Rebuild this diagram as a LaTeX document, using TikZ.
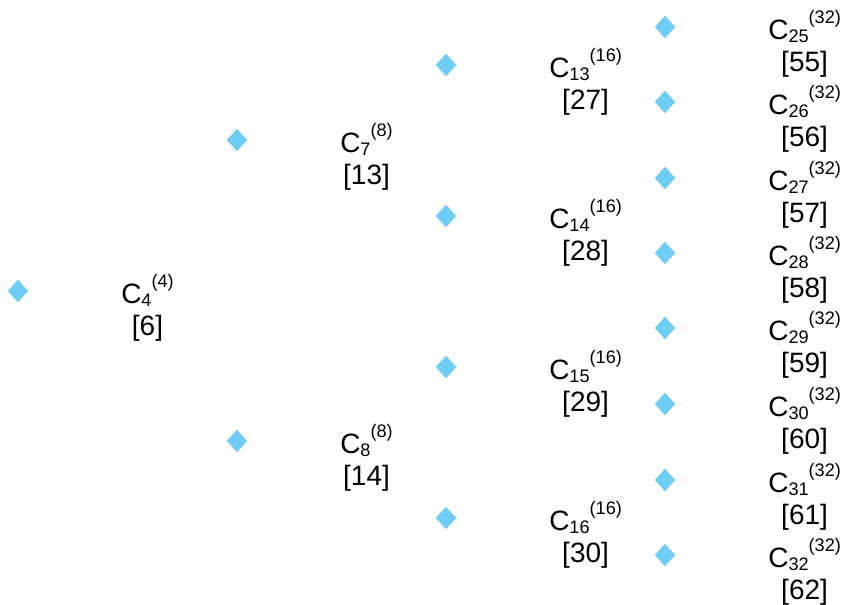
\documentclass[tikz,border=0pt]{standalone}
\usepackage{fontspec}
\setmainfont{Liberation Sans}
\usetikzlibrary{shapes.geometric}
\definecolor{diablue}{RGB}{111,205,245}
\newcommand\lbsub[1]{\raisebox{-0.08em}{\fontsize{13.6pt}{14pt}\selectfont #1}}
\newcommand\lbsup[1]{\raisebox{0.58em}{\fontsize{13.6pt}{14pt}\selectfont #1}}
\tikzset{
  dia/.style={shape=diamond, fill=diablue, draw=none, inner sep=0pt,
              minimum width=15.5pt, minimum height=17pt},
  lab/.style={anchor=west, inner sep=0pt, align=center,
              font=\fontsize{21pt}{23.7pt}\selectfont}
}
\begin{document}
\begin{tikzpicture}[x=0.75pt,y=-0.75pt]
\useasboundingbox (0,0) rectangle (855,605);
\foreach \x/\y/\s/\p/\n/\k in {
  18/291/4/4/6/a,
  237/140/7/8/13/b, 237/441/8/8/14/c,
  446/65/13/16/27/d, 446/216/14/16/28/e, 446/367/15/16/29/f, 446/518/16/16/30/g,
  665/27/25/32/55/h, 665/102/26/32/56/i, 665/178/27/32/57/j, 665/253/28/32/58/k,
  665/328/29/32/59/l, 665/404/30/32/60/m, 665/480/31/32/61/n, 665/555/32/32/62/o} {
  \node[dia] (d\k) at (\x,\y) {};
  \node[lab] (t\k) at (\x+103,\y+17) {C\lbsub{\s}\lbsup{(\p)}\\{[\n]}};
}
\end{tikzpicture}
\end{document}
